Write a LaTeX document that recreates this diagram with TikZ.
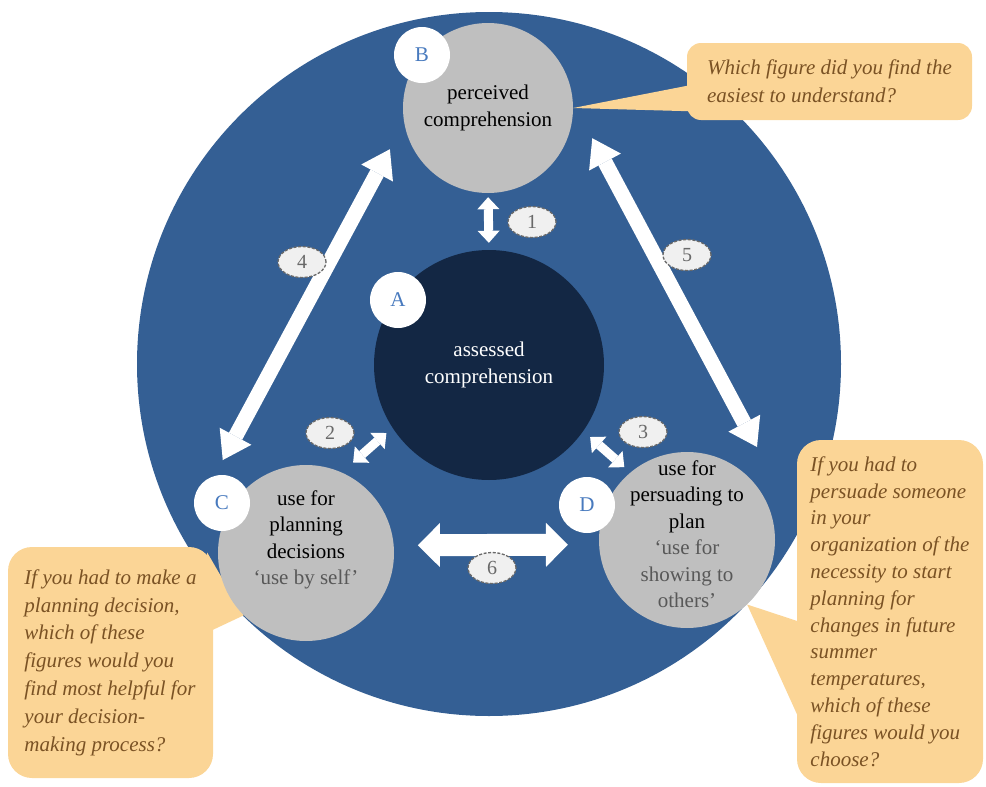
\documentclass[tikz,border=0pt]{standalone}
\usepackage{fontspec}
\setmainfont{LiberationSerif}[Extension=.ttf,UprightFont=*-Regular,ItalicFont=*-Italic,BoldFont=*-Bold,BoldItalicFont=*-BoldItalic]
\usetikzlibrary{arrows.meta,shapes.geometric,backgrounds}
\definecolor{ringblue}{RGB}{52,95,148}
\definecolor{coreblue}{RGB}{19,39,68}
\definecolor{discgray}{RGB}{191,191,191}
\definecolor{tagblue}{RGB}{72,122,190}
\definecolor{numgray}{RGB}{105,105,105}
\definecolor{numfill}{RGB}{240,240,240}
\definecolor{askfill}{RGB}{251,213,150}
\definecolor{asktext}{RGB}{122,82,36}
\definecolor{subgray}{RGB}{88,88,88}
\tikzset{
  disc/.style={circle,fill=discgray,inner sep=0pt,align=center,minimum size=#1},
  tag/.style={circle,fill=white,inner sep=0pt,minimum size=56pt,text=tagblue},
  num/.style={ellipse,draw=numgray,fill=numfill,line width=1.3pt,dash pattern=on 3pt off 1.6pt,
    minimum width=48pt,minimum height=31pt,inner sep=0pt,text=numgray,font=\fontsize{20}{24}\selectfont},
  ask/.style={fill=askfill,rounded corners=14pt,align=left,text=asktext,inner sep=0pt},
  duo/.style n args={3}{draw=white,line cap=butt,line width=#1,
    arrows={Triangle[width=#2,length=#3,line width=0pt]-Triangle[width=#2,length=#3,line width=0pt]}}
}
\begin{document}
\begin{tikzpicture}[x=1pt,y=-1pt,line join=round,font=\fontsize{21}{26.5}\selectfont]
\useasboundingbox (0,0) rectangle (986,787);
% the four circles
\node[disc=170pt] (B) at (488,108) {perceived\\comprehension};
\node[disc=230pt,fill=coreblue,text=white] (A) at (489,365) {assessed\\comprehension};
\node[disc=176pt] (C) at (306,553) {};
\node[disc=176pt] (D) at (687,540) {};
\node[align=center] (Ct) at (306,540) {use for\\planning\\decisions\\\textcolor{subgray}{‘use by self’}};
\node[align=center] (Dt) at (687,534) {use for\\persuading to\\plan\\\textcolor{subgray}{‘use for}\\\textcolor{subgray}{showing to}\\\textcolor{subgray}{others’}};
\node[tag] (tB) at (422,55) {B};
\node[tag] (tA) at (398,300) {A};
\node[tag] (tC) at (222,503) {C};
\node[tag] (tD) at (587,505) {D};
% ring and questions behind
\begin{pgfonlayer}{background}
\fill[ringblue] (489,364) circle[radius=352pt];
\node[ask,minimum width=285pt,minimum height=77pt,font=\fontsize{21}{28}\selectfont\itshape] (q1) at (829.5,81.5)
  {Which figure did you find the\\easiest to understand?};
\node[ask,rounded corners=24pt,minimum width=205pt,minimum height=231pt,font=\fontsize{21}{27.8}\selectfont\itshape] (q2) at (110.5,662.5)
  {If you had to make a\\planning decision,\\which of these\\figures would you\\find most helpful for\\your decision-\\making process?};
\node[ask,rounded corners=24pt,minimum width=186pt,minimum height=343pt,font=\fontsize{21}{26.8}\selectfont\itshape] (q3) at (890,611.5)
  {If you had to\\persuade someone\\in your\\organization of the\\necessity to start\\planning for\\changes in future\\summer\\temperatures,\\which of these\\figures would you\\choose?};
\fill[askfill] ([xshift=12pt,yshift=-2pt]q1.west) -- (B.east) -- ([xshift=12pt,yshift=-30pt]q1.west) -- cycle;
\fill[askfill] ([xshift=-6pt,yshift=110pt]q2.east) -- (C.225) -- ([xshift=-6pt,yshift=30pt]q2.east) -- cycle;
\fill[askfill] ([xshift=8pt,yshift=-12pt]q3.west) -- (D.313) -- ([xshift=8pt,yshift=-120pt]q3.west) -- cycle;
\end{pgfonlayer}
% arrows
\coordinate (p5) at (757,447);
\draw[duo={9pt}{22pt}{12pt},shorten <=4pt,shorten >=7pt] (B.south) -- (A.north);
\draw[duo={9pt}{22pt}{12pt},shorten <=15pt,shorten >=8pt] (C.66) -- (A.213);
\draw[duo={9pt}{22pt}{12pt},shorten <=9pt,shorten >=8pt] (A.325) -- (D.130);
\draw[duo={15pt}{36pt}{27pt},shorten <=30pt,shorten >=18pt] (B.190) -- (tC.106);
\draw[duo={15pt}{36pt}{27pt},shorten <=41pt] (B.4) -- (p5);
\draw[duo={22pt}{44pt}{22pt},shorten <=24pt,shorten >=31pt] (C.5) -- (D.183);
% numbers
\foreach \k/\x/\y in {1/532/222,2/330/433,3/643/432,4/302/262,5/687/255,6/492/568}
  \node[num] (n\k) at (\x,\y) {\k};
\end{tikzpicture}
\end{document}
